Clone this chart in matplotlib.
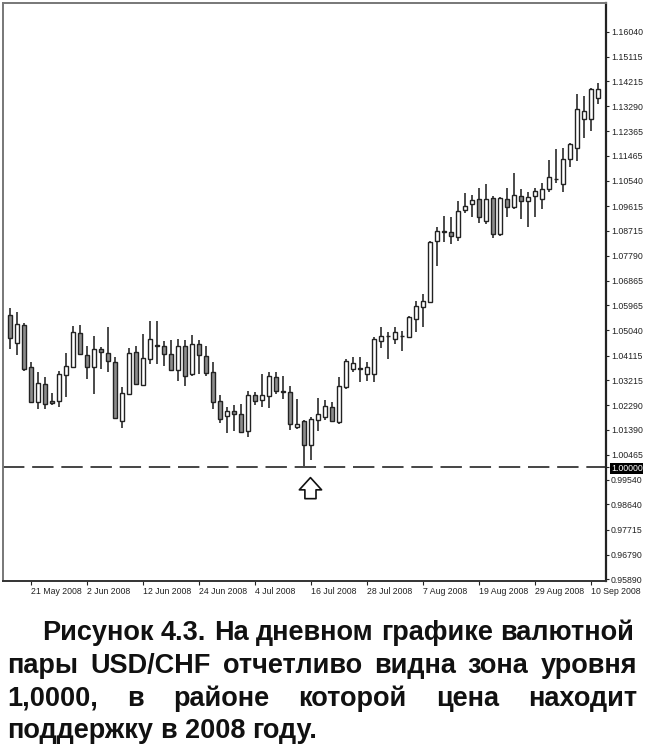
import matplotlib
matplotlib.use('Agg')
import matplotlib.pyplot as plt
from matplotlib.transforms import IdentityTransform
import numpy as np
import pandas as pd

# USD/CHF daily bars, 16 May 2008 .. 11 Sep 2008
dates = pd.bdate_range('2008-05-16', '2008-09-11')

opens = [1.0561, 1.0458, 1.0524, 1.0369, 1.0240, 1.0308, 1.0243, 1.0243, 1.0341, 1.0369,
         1.0495, 1.0415, 1.0369, 1.0436, 1.0420, 1.0387, 1.0169, 1.0271, 1.0424, 1.0304,
         1.0399, 1.0451, 1.0448, 1.0418, 1.0359, 1.0448, 1.0342, 1.0455, 1.0409, 1.0350,
         1.0244, 1.0191, 1.0209, 1.0195, 1.0133, 1.0267, 1.0249, 1.0261, 1.0334, 1.0283,
         1.0279, 1.0148, 1.0169, 1.0081, 1.0175, 1.0187, 1.0224, 1.0166, 1.0295, 1.0363,
         1.0364, 1.0342, 1.0342, 1.0467, 1.0485, 1.0473, 1.0485, 1.0481, 1.0546, 1.0592,
         1.0607, 1.0832, 1.0869, 1.0868, 1.0849, 1.0947, 1.0969, 1.0987, 1.0908, 1.0993,
         1.0859, 1.0987, 1.0957, 1.1000, 1.0979, 1.1000, 1.0987, 1.1024, 1.1062, 1.1043,
         1.1134, 1.1177, 1.1281, 1.1281, 1.1361]
highs = [1.0585, 1.0571, 1.0530, 1.0387, 1.0350, 1.0332, 1.0273, 1.0356, 1.0422, 1.0522,
         1.0524, 1.0446, 1.0485, 1.0442, 1.0518, 1.0405, 1.0295, 1.0438, 1.0448, 1.0491,
         1.0540, 1.0537, 1.0467, 1.0469, 1.0473, 1.0469, 1.0489, 1.0469, 1.0445, 1.0387,
         1.0265, 1.0222, 1.0228, 1.0234, 1.0283, 1.0277, 1.0342, 1.0350, 1.0350, 1.0338,
         1.0301, 1.0252, 1.0175, 1.0187, 1.0256, 1.0249, 1.0240, 1.0332, 1.0399, 1.0405,
         1.0405, 1.0387, 1.0479, 1.0518, 1.0497, 1.0516, 1.0503, 1.0559, 1.0611, 1.0638,
         1.0834, 1.0883, 1.0926, 1.0920, 1.0981, 1.1008, 1.1003, 1.1030, 1.1043, 1.1000,
         1.0996, 1.1030, 1.1085, 1.1024, 1.1012, 1.1030, 1.1048, 1.1131, 1.1171, 1.1175,
         1.1195, 1.1373, 1.1367, 1.1398, 1.1416]
lows = [1.0434, 1.0412, 1.0356, 1.0238, 1.0216, 1.0216, 1.0228, 1.0222, 1.0258, 1.0365,
        1.0412, 1.0326, 1.0271, 1.0363, 1.0350, 1.0179, 1.0144, 1.0265, 1.0304, 1.0299,
        1.0381, 1.0381, 1.0375, 1.0354, 1.0317, 1.0301, 1.0338, 1.0344, 1.0338, 1.0216,
        1.0163, 1.0126, 1.0133, 1.0126, 1.0111, 1.0228, 1.0222, 1.0219, 1.0271, 1.0252,
        1.0136, 1.0142, 1.0007, 1.0026, 1.0133, 1.0173, 1.0166, 1.0161, 1.0290, 1.0350,
        1.0313, 1.0317, 1.0313, 1.0440, 1.0399, 1.0455, 1.0430, 1.0479, 1.0497, 1.0518,
        1.0604, 1.0742, 1.0828, 1.0822, 1.0834, 1.0938, 1.0920, 1.0901, 1.0896, 1.0846,
        1.0853, 1.0920, 1.0951, 1.0914, 1.0883, 1.0920, 1.0951, 1.1012, 1.1048, 1.1012,
        1.1104, 1.1128, 1.1214, 1.1238, 1.1337]
closes = [1.0475, 1.0528, 1.0363, 1.0240, 1.0311, 1.0234, 1.0238, 1.0344, 1.0372, 1.0497,
          1.0418, 1.0371, 1.0436, 1.0426, 1.0393, 1.0181, 1.0275, 1.0422, 1.0308, 1.0402,
          1.0473, 1.0446, 1.0418, 1.0359, 1.0448, 1.0338, 1.0455, 1.0412, 1.0347, 1.0240,
          1.0179, 1.0209, 1.0195, 1.0130, 1.0267, 1.0246, 1.0265, 1.0338, 1.0283, 1.0279,
          1.0161, 1.0161, 1.0081, 1.0179, 1.0195, 1.0225, 1.0170, 1.0301, 1.0393, 1.0383,
          1.0363, 1.0369, 1.0473, 1.0485, 1.0483, 1.0497, 1.0483, 1.0552, 1.0595, 1.0614,
          1.0828, 1.0871, 1.0867, 1.0853, 1.0944, 1.0963, 1.0984, 1.0920, 1.0987, 1.0859,
          1.0993, 1.0957, 1.1003, 1.0981, 1.0996, 1.1018, 1.1024, 1.1067, 1.1060, 1.1134,
          1.1190, 1.1318, 1.1312, 1.1392, 1.1392]

support_level = 1.0
support_date = '2008-07-15'

price_ticks = [0.95890, 0.96790, 0.97715, 0.98640, 0.99540, 1.00000, 1.00465, 1.01390,
               1.02290, 1.03215, 1.04115, 1.05040, 1.05965, 1.06865, 1.07790, 1.08715,
               1.09615, 1.10540, 1.11465, 1.12365, 1.13290, 1.14215, 1.15115, 1.16040]
date_ticks = ['2008-05-21', '2008-06-02', '2008-06-12', '2008-06-24', '2008-07-04',
              '2008-07-16', '2008-07-28', '2008-08-07', '2008-08-19', '2008-08-29',
              '2008-09-10']

caption = [
    'Рисунок 4.3. На дневном графике валютной',
    'пары USD/CHF отчетливо видна зона уровня',
    '1,0000,  в  районе  которой  цена  находит',
    'поддержку в 2008 году.',
]

W, H = 650, 747
fig = plt.figure(figsize=(W / 100, H / 100), dpi=100)
fig.patch.set_facecolor('white')
ax = fig.add_axes([3 / W, (H - 581) / H, 603 / W, 578 / H])

o = np.array(opens)
h = np.array(highs)
l = np.array(lows)
c = np.array(closes)
x = np.arange(len(o))
up = c >= o

ax.vlines(x, l, h, color='#4a4a4a', linewidth=1.4, zorder=2)
body_lo = np.minimum(o, c)
body_hi = np.maximum(o, c)
ax.bar(x, np.maximum(body_hi - body_lo, 0.0002), bottom=body_lo, width=0.62,
       color=np.where(up, 'white', '#8c8c8c'), edgecolor='#222222',
       linewidth=1.0, zorder=3)

ax.axhline(support_level, color='#444444', linewidth=1.4, dashes=(11, 4), zorder=1)

# hollow arrow under the support touch
xa = dates.get_loc(pd.Timestamp(support_date)) + 0.9
ax.annotate('', xy=(xa, 0.99625), xytext=(xa, 0.9885),
            arrowprops=dict(arrowstyle='simple,head_length=0.55,head_width=1.0,tail_width=0.5',
                            fc='white', ec='#111111', lw=1.2, mutation_scale=16,
                            shrinkA=0, shrinkB=0))

ax.set_xlim(-1, len(o) + 0.1)
ax.set_ylim(0.9582, 1.1709)

# price scale on the right
ax.yaxis.tick_right()
ax.set_yticks(price_ticks)
ax.set_yticklabels([f'{v:.5f}' for v in price_ticks])
ax.tick_params(axis='y', length=2.5, width=0.8, pad=1, labelsize=6.3, colors='#222222')
for lab, v in zip(ax.get_yticklabels(), price_ticks):
    lab.set_family('Liberation Sans')
    if v == support_level:
        lab.set_color('white')
        lab.set_bbox(dict(facecolor='black', edgecolor='none', pad=0.6))

# date scale at the bottom, labels start at the tick
tick_pos = [dates.get_loc(pd.Timestamp(d)) for d in date_ticks]
ax.set_xticks(tick_pos)
ax.set_xticklabels([f'{pd.Timestamp(d).day} {pd.Timestamp(d):%b %Y}' for d in date_ticks])
ax.tick_params(axis='x', length=3, width=0.8, pad=1.5, labelsize=6.3, colors='#222222')
for lab in ax.get_xticklabels():
    lab.set_ha('left')
    lab.set_family('Liberation Sans')

for side, col, lw in [('left', '#777777', 1.4), ('top', '#777777', 1.4),
                      ('right', '#222222', 1.6), ('bottom', '#333333', 1.4)]:
    ax.spines[side].set_color(col)
    ax.spines[side].set_linewidth(lw)


# justified caption below the chart
def put_line(words, y, x0, x1, justify=True):
    props = dict(fontsize=19.5, fontweight='bold', family='Liberation Sans', color='#111111',
                 va='baseline', transform=IdentityTransform())
    texts = [fig.text(0, y, w, **props) for w in words]
    r = fig.canvas.get_renderer()
    widths = [t.get_window_extent(r).width for t in texts]
    if justify and len(words) > 1:
        gap = (x1 - x0 - sum(widths)) / (len(words) - 1)
    else:
        probe = fig.text(0, 0, 'a a', **props)
        probe2 = fig.text(0, 0, 'aa', **props)
        gap = probe.get_window_extent(r).width - probe2.get_window_extent(r).width
        probe.remove()
        probe2.remove()
    pos = x0
    for t, w in zip(texts, widths):
        t.set_x(pos)
        pos += w + gap


fig.canvas.draw()
baselines = [H - 640, H - 673, H - 706, H - 738]
put_line(caption[0].split(), baselines[0], 42, 634)
put_line(caption[1].split(), baselines[1], 7, 637)
put_line(caption[2].split(), baselines[2], 7, 637)
put_line(caption[3].split(), baselines[3], 7, 637, justify=False)

fig.savefig('out.png', dpi=100)
